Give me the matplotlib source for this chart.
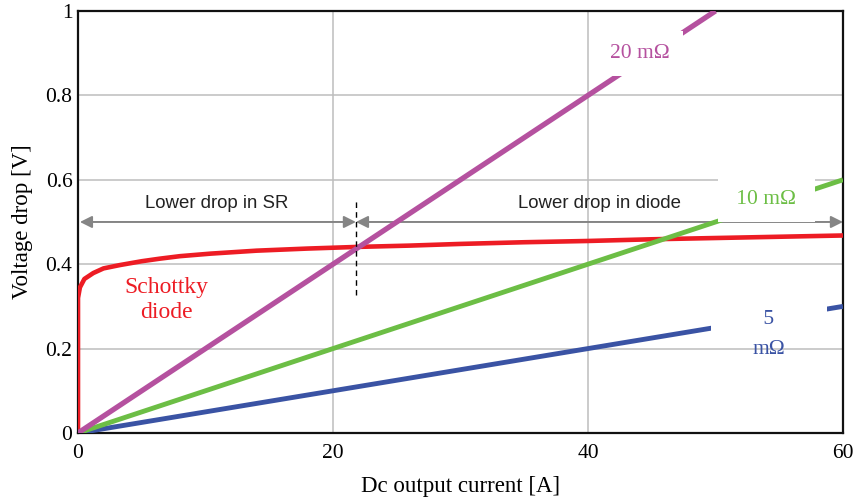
import matplotlib

matplotlib.use("Agg")
import matplotlib.pyplot as plt

# Schottky diode forward drop vs current
diode_current = [0, 0, 0.15, 0.5, 1.2, 2, 3.3, 5, 6.4, 8, 10.4, 14, 18, 22,
                 26, 30, 35, 40, 45, 50, 55, 60]
diode_voltage = [0, 0.32, 0.345, 0.365, 0.379, 0.39, 0.398, 0.407, 0.413,
                 0.419, 0.425, 0.432, 0.437, 0.441, 0.444, 0.448, 0.452,
                 0.455, 0.459, 0.462, 0.465, 0.468]

# synchronous rectifier drops (straight lines, end points)
sr5_current = [0, 60]
sr5_voltage = [0, 0.30]
sr10_current = [0, 60]
sr10_voltage = [0, 0.60]
sr20_current = [0, 50]
sr20_voltage = [0, 1.0]

crossover_current = 21.8
x_ticks = [0, 20, 40, 60]
y_ticks = [0, 0.2, 0.4, 0.6, 0.8, 1]
y_tick_labels = ["0", "0.2", "0.4", "0.6", "0.8", "1"]

RED = "#ED1C24"
MAGENTA = "#B5519F"
GREEN = "#6CBE45"
BLUE = "#3A53A4"
ARROW = "#858585"

SERIF = "Liberation Serif"
SANS = "Liberation Sans"

fig = plt.figure(figsize=(8.6, 4.99), dpi=100)
ax = fig.add_axes([0.0907, 0.1323, 0.8895, 0.8457])

ax.plot(sr5_current, sr5_voltage, color=BLUE, lw=3.5, zorder=3,
        solid_capstyle="butt")
ax.plot(diode_current, diode_voltage, color=RED, lw=3.3, zorder=3,
        solid_capstyle="butt")
ax.plot(sr10_current, sr10_voltage, color=GREEN, lw=3.5, zorder=3.1,
        solid_capstyle="butt")
ax.plot(sr20_current, sr20_voltage, color=MAGENTA, lw=3.8, zorder=3.2,
        solid_capstyle="butt")

# region arrows and crossover marker
arrow_kw = dict(arrowstyle="<|-|>", color=ARROW, lw=1.4, mutation_scale=18,
                shrinkA=0, shrinkB=0)
ax.annotate("", xy=(0.15, 0.5), xytext=(crossover_current, 0.5),
            arrowprops=arrow_kw, zorder=2)
ax.annotate("", xy=(crossover_current, 0.5), xytext=(60, 0.5),
            arrowprops=arrow_kw, zorder=2)
ax.plot([crossover_current, crossover_current], [0.327, 0.55], color="black",
        lw=1.0, ls=(0, (4, 3)), zorder=4)

ax.text(10.9, 0.543, "Lower drop in SR", ha="center", va="center",
        family=SANS, fontsize=13.4, color="#222222")
ax.text(40.9, 0.543, "Lower drop in diode", ha="center", va="center",
        family=SANS, fontsize=13.4, color="#222222")

# curve labels with white backgrounds that break the lines
ax.text(44.1, 0.9, "20 mΩ", ha="center", va="center", family=SERIF,
        fontsize=15.5, color=MAGENTA, zorder=5,
        bbox=dict(boxstyle="square,pad=0.6", fc="white", ec="none"))
ax.text(54.0, 0.553, " 10 mΩ ", ha="center", va="center", family=SERIF,
        fontsize=15.5, color=GREEN, zorder=5,
        bbox=dict(boxstyle="square,pad=0.6", fc="white", ec="none"))
ax.text(54.2, 0.268, "         5         ", ha="center", va="center",
        family=SERIF, fontsize=15.5, color=BLUE, zorder=5,
        bbox=dict(boxstyle="square,pad=0.2", fc="white", ec="none"))
ax.text(54.2, 0.197, "mΩ", ha="center", va="center", family=SERIF,
        fontsize=15.5, color=BLUE, zorder=5)
ax.text(6.9, 0.315, "Schottky\ndiode", ha="center", va="center",
        family=SERIF, fontsize=17, color=RED, linespacing=1.2, zorder=5)

ax.set_xlim(0, 60)
ax.set_ylim(0, 1)
ax.set_xticks(x_ticks)
ax.set_yticks(y_ticks)
ax.set_yticklabels(y_tick_labels)
ax.tick_params(length=0, labelsize=15.5, pad=8)
ax.tick_params(axis="y", pad=4)
for label in ax.get_xticklabels() + ax.get_yticklabels():
    label.set_family(SERIF)
ax.grid(True, color="#BDBDBD", lw=1.1)
ax.set_axisbelow(True)
for spine in ax.spines.values():
    spine.set_linewidth(1.6)
    spine.set_color("#111111")

ax.set_xlabel("Dc output current [A]", family=SERIF, fontsize=16.5, labelpad=9)
ax.set_ylabel("Voltage drop [V]", family=SERIF, fontsize=16.5, labelpad=9)

fig.savefig("out.png", dpi=100)
